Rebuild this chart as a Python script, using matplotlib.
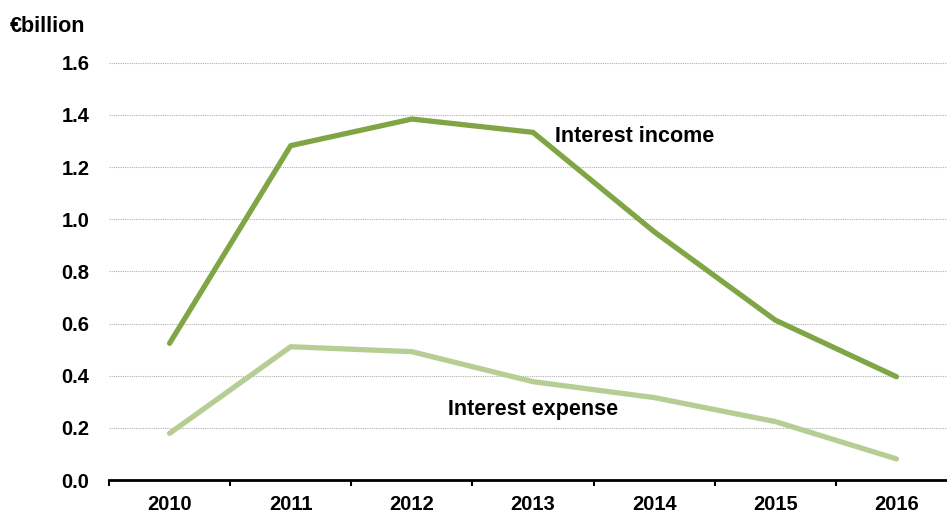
import numpy as np
import matplotlib.pyplot as plt

plt.rcParams['font.family'] = ['Liberation Sans', 'DejaVu Sans']

# data
years = ['2010', '2011', '2012', '2013', '2014', '2015', '2016']
income = [0.524, 1.282, 1.384, 1.333, 0.952, 0.613, 0.396]
expense = [0.179, 0.511, 0.492, 0.377, 0.316, 0.224, 0.081]
yticks = [0.0, 0.2, 0.4, 0.6, 0.8, 1.0, 1.2, 1.4, 1.6]

W, H = 947, 518
fig = plt.figure(figsize=(W / 100, H / 100), dpi=100)
# axes runs a little past the right edge, like the cropped original
ax = fig.add_axes([109 / W, 1 - 480 / H, (957 - 109) / W, (480 - 62.7) / H])

x = np.arange(len(years))
ax.plot(x, income, color='#7fa545', lw=3.8, solid_capstyle='round', zorder=3)
ax.plot(x, expense, color='#b6cd94', lw=3.8, solid_capstyle='round', zorder=3)

ax.set_xlim(-0.5, len(years) - 0.5)
ax.set_ylim(0, 1.6)
ax.set_yticks(yticks)
ax.set_yticklabels([f'{v:.1f}' for v in yticks], fontsize=14.5, fontweight='bold')
ax.tick_params(axis='y', length=0, pad=14)

# category labels in the middle, tick marks on the boundaries
ax.set_xticks(x)
ax.set_xticklabels(years, fontsize=14.5, fontweight='bold')
ax.tick_params(axis='x', which='major', length=0, pad=11)
ax.set_xticks(np.arange(-0.5, len(years)), minor=True)
ax.tick_params(axis='x', which='minor', length=4.5, width=1.5, direction='out', color='black')

for s in ['left', 'right', 'top']:
    ax.spines[s].set_visible(False)
ax.spines['bottom'].set_linewidth(2)

ax.yaxis.grid(True, linestyle=(0, (1, 1)), color='#b0b0b0', lw=0.8)
for gl in ax.get_ygridlines():
    gl.set_clip_on(False)
ax.set_axisbelow(True)

ax.text(3.18, 1.296, 'Interest income', fontsize=15.5, fontweight='bold', va='baseline', ha='left')
ax.text(2.30, 0.249, 'Interest expense', fontsize=15.5, fontweight='bold', va='baseline', ha='left')

fig.text(10 / W, 1 - 32.3 / H, '€billion', fontsize=15.5, fontweight='bold', va='baseline', ha='left')

fig.savefig('out.png', dpi=100)
